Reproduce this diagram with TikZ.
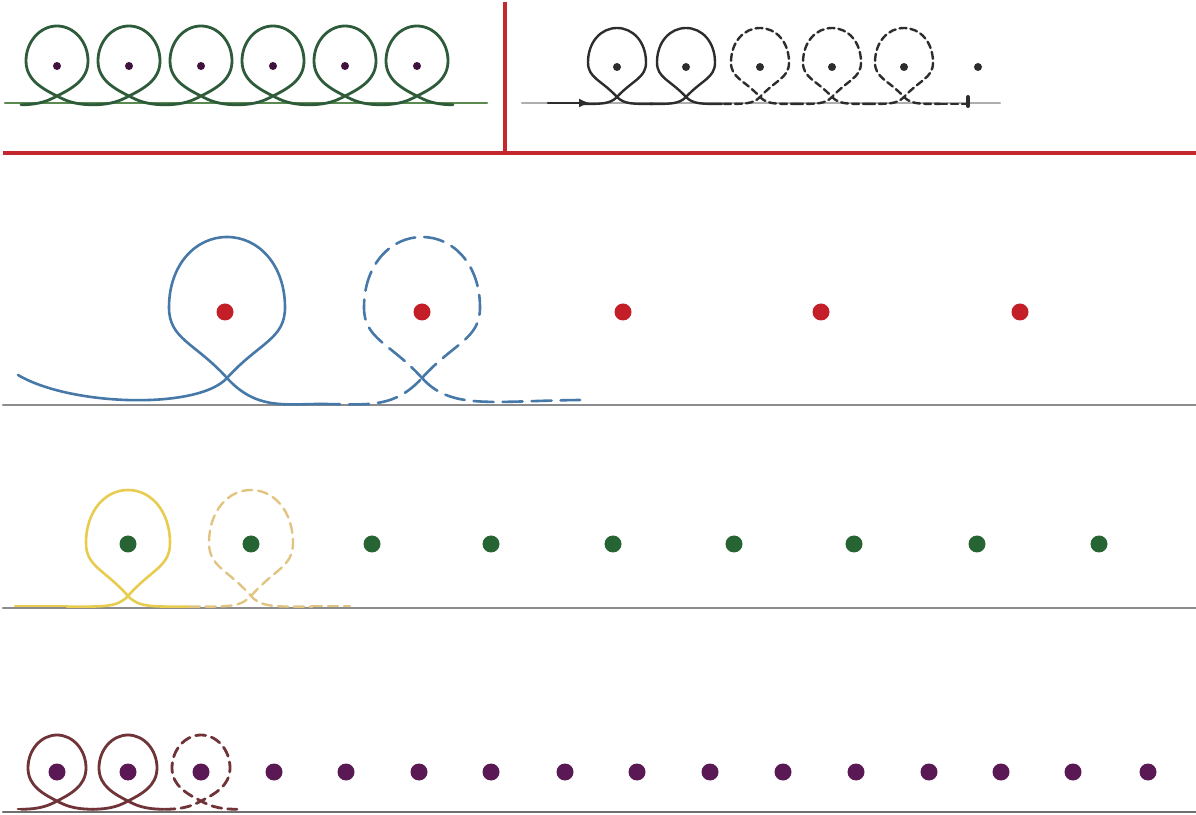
\documentclass[tikz,border=0pt]{standalone}
\usetikzlibrary{arrows.meta}
\definecolor{frame}{RGB}{196,40,45}
\definecolor{loopgreen}{RGB}{46,92,58}
\definecolor{leafgreen}{RGB}{90,138,80}
\definecolor{ink}{RGB}{45,45,45}
\definecolor{rulegrey}{RGB}{140,140,140}
\definecolor{strokeblue}{RGB}{70,120,168}
\definecolor{dotred}{RGB}{196,30,40}
\definecolor{strokeyel}{RGB}{232,204,80}
\definecolor{strokesand}{RGB}{226,196,130}
\definecolor{dotgreen}{RGB}{38,100,52}
\definecolor{strokebrown}{RGB}{112,52,56}
\definecolor{dotplum}{RGB}{90,25,85}

\tikzset{
  tailreach/.store in=\tailreach, tailreach=1.15,
  loopy/.pic={
    \draw[pic actions] (-\tailreach,-0.2) .. controls (-0.6,-0.2) and (-0.25,-0.22) .. (0,0)
      .. controls (0.55,0.5) and (1,0.55) .. (1,1)
      .. controls (1,1.6) and (0.55,2) .. (0,2)
      .. controls (-0.55,2) and (-1,1.6) .. (-1,1)
      .. controls (-1,0.55) and (-0.55,0.5) .. (0,0)
      .. controls (0.25,-0.22) and (0.6,-0.2) .. (\tailreach,-0.2);
  },
  loopbody/.pic={
    \draw[pic actions] (0,0)
      .. controls (0.55,0.5) and (1,0.55) .. (1,1)
      .. controls (1,1.6) and (0.55,2) .. (0,2)
      .. controls (-0.55,2) and (-1,1.6) .. (-1,1)
      .. controls (-1,0.55) and (-0.55,0.5) .. (0,0);
  },
  ring/.pic={
    \draw[pic actions] (-\tailreach,-0.25) .. controls (-0.55,-0.25) and (-0.25,-0.12) .. (0,0)
      .. controls (0.45,0.2) and (1,0.45) .. (1,1)
      .. controls (1,1.55) and (0.55,2) .. (0,2)
      .. controls (-0.55,2) and (-1,1.55) .. (-1,1)
      .. controls (-1,0.45) and (-0.45,0.2) .. (0,0)
      .. controls (0.25,-0.12) and (0.55,-0.25) .. (\tailreach,-0.25);
  }
}

\begin{document}
\begin{tikzpicture}[x=1pt,y=1pt,line cap=round,
  frm/.style={frame,line width=4.5pt,line cap=butt},
  rul/.style={rulegrey,line width=2.2pt},
  lg/.style={loopgreen,line width=2.8pt},
  blk/.style={ink,line width=2.4pt},
  blkd/.style={blk,dash pattern=on 7pt off 4pt},
  bl/.style={strokeblue,line width=2.6pt},
  bld/.style={bl,dash pattern=on 20pt off 9pt},
  yl/.style={strokeyel,line width=2.6pt},
  yld/.style={strokesand,line width=2.4pt,dash pattern=on 10pt off 6pt},
  br/.style={strokebrown,line width=2.8pt},
  brd/.style={br,dash pattern=on 10pt off 6pt},
  dot/.style={circle,inner sep=0pt,minimum size=#1,draw=none},
  sdot/.style={dot=8pt,fill=ink},
  rdot/.style={dot=17pt,fill=dotred},
  gdot/.style={dot=17pt,fill=dotgreen},
  pdot/.style={dot=17pt,fill=dotplum}]
\useasboundingbox (0,0) rectangle (1196,814);
% frame
\draw[frm] (3,661) -- (1196,661);
\draw[frm] (505,661) -- (505,812);
% top left: finished row
\draw[leafgreen,line width=2.4pt] (5,711) -- (487,711);
\foreach \x [count=\i] in {57,129,201,273,345,417} {
  \pic[lg,tailreach=1.16,xscale=31,yscale=35] at (\x,718) {ring};
  \node[sdot,fill=dotplum!70!black] (a\i) at (\x,748) {};
}
% top right: trace row
\draw[rul,rulegrey!70] (522,711) -- (1000,711);
\draw[blk,-{Latex[length=11pt,width=9pt]}] (548,711) -- (590,711);
\foreach \x [count=\i] in {617,686} \pic[blk,tailreach=1.24,xscale=29,yscale=34.5] at (\x,717) {loopy};
\foreach \x [count=\i] in {760,832,904} \pic[blkd,tailreach=1.24,xscale=29,yscale=34.5] at (\x,717) {loopy};
\draw[blkd] (940,710) -- (966,710);
\draw[ink,line width=4pt] (968,708) -- (968,717);
\foreach \x [count=\i] in {617,686,760,832,904,978}
  \node[sdot] (b\i) at (\x,747) {};
% row 2
\draw[rul] (3,409) -- (1196,409);
\draw[bl] (18,439) .. controls (70,408) and (198,404) .. (227,436);
\pic[bl,xscale=58,yscale=70.5] at (227,436) {loopbody};
\draw[bl] (227,436) .. controls (256,404) and (285,410) .. (320,410);
\draw[bld] (320,410) .. controls (365,410) and (393,404) .. (422,436);
\pic[bld,xscale=58,yscale=70.5] at (422,436) {loopbody};
\draw[bld] (422,436) .. controls (451,404) and (490,413) .. (580,414);
\foreach \x [count=\i] in {225,422,623,821,1020}
  \node[rdot] (r\i) at (\x,502) {};
% row 3
\draw[rul] (3,206) -- (1196,206);
\draw[yl] (15,208) -- (67,208);
\pic[yl,tailreach=1.46,xscale=42,yscale=53] at (128,218) {loopy};
\pic[yld,tailreach=1.46,xscale=42,yscale=53] at (251,218) {loopy};
\draw[yld] (312,208) -- (350,208);
\foreach \x [count=\i] in {128,251,372,491,613,734,854,977,1099}
  \node[gdot] (g\i) at (\x,270) {};
% row 4
\draw[rul,rulegrey!80!black] (3,2) -- (1196,2);
\draw[br] (18,5) -- (21,5);
\foreach \x in {57,128} \pic[br,tailreach=1.24,xscale=29,yscale=33] at (\x,13) {ring};
\pic[brd,tailreach=1.24,xscale=29,yscale=33] at (201,13) {ring};
\foreach \x [count=\i] in {57,128,201,274,346,419,491,565,637,710,783,856,929,1001,1073,1148}
  \node[pdot] (p\i) at (\x,42) {};
\end{tikzpicture}
\end{document}
